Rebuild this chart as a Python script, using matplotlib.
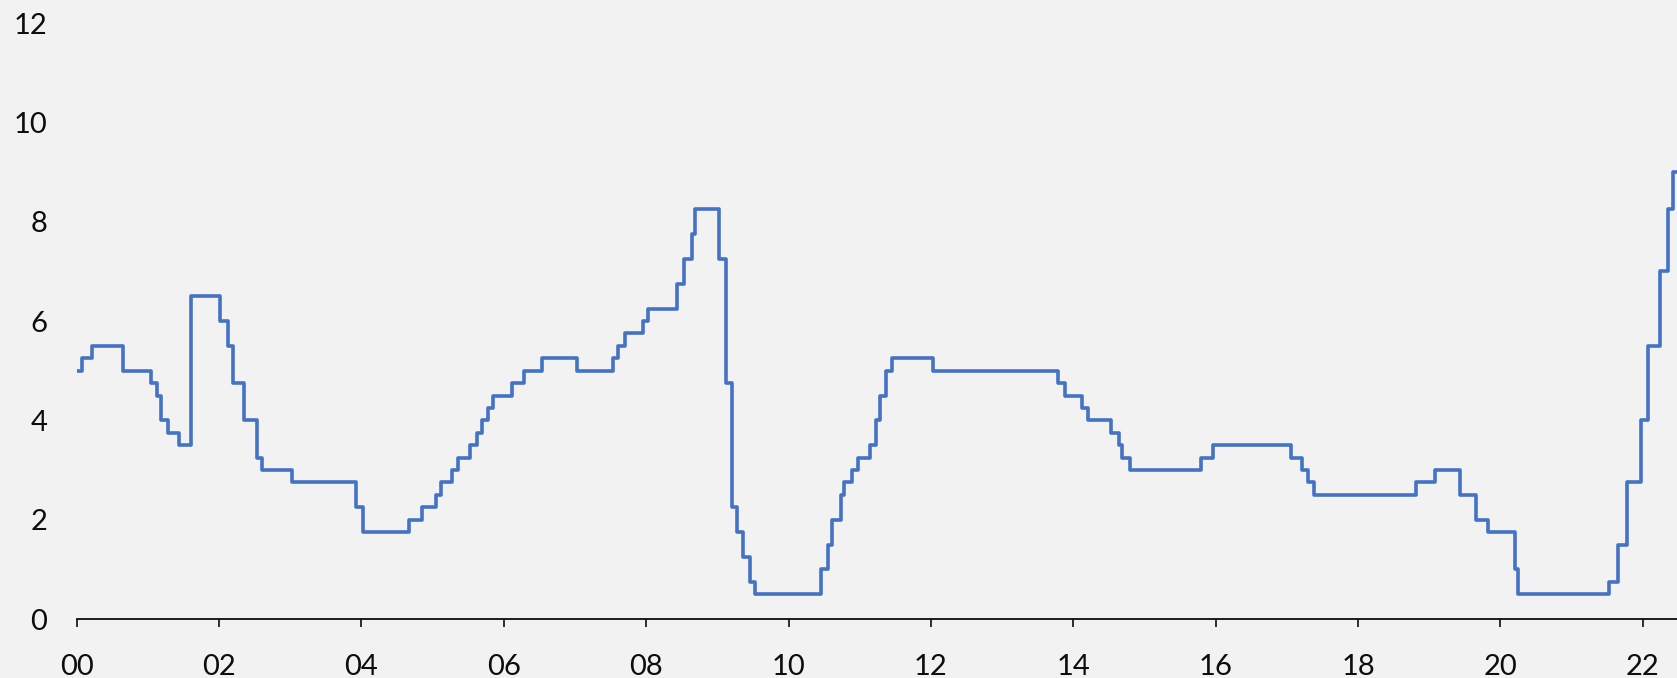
import numpy as np
import matplotlib
matplotlib.use("Agg")
import matplotlib.pyplot as plt

# step changes: time in years since 2000, level after the change
change_years = [0.0, 0.07, 0.22, 0.655, 1.05, 1.13, 1.18, 1.29, 1.44, 1.61,
                2.02, 2.13, 2.20, 2.35, 2.54, 2.61, 3.02, 3.93, 4.02, 4.67,
                4.85, 5.05, 5.12, 5.27, 5.36, 5.53, 5.62, 5.70, 5.78, 5.85,
                6.11, 6.29, 6.53, 7.03, 7.53, 7.61, 7.70, 7.95, 8.02, 8.43,
                8.53, 8.64, 8.69, 9.02, 9.12, 9.20, 9.28, 9.36, 9.46, 9.53,
                10.46, 10.56, 10.61, 10.74, 10.78, 10.89, 10.97, 11.15, 11.23, 11.29,
                11.37, 11.45, 12.03, 13.79, 13.89, 14.12, 14.20, 14.53, 14.64, 14.68,
                14.79, 15.79, 15.96, 17.06, 17.21, 17.29, 17.38, 18.81, 19.08, 19.43,
                19.66, 19.82, 20.20, 20.25, 21.52, 21.65, 21.78, 21.97, 22.07, 22.24,
                22.35, 22.42]
rates = [5.0, 5.25, 5.5, 5.0, 4.75, 4.5, 4.0, 3.75, 3.5, 6.5,
         6.0, 5.5, 4.75, 4.0, 3.25, 3.0, 2.75, 2.25, 1.75, 2.0,
         2.25, 2.5, 2.75, 3.0, 3.25, 3.5, 3.75, 4.0, 4.25, 4.5,
         4.75, 5.0, 5.25, 5.0, 5.25, 5.5, 5.75, 6.0, 6.25, 6.75,
         7.25, 7.75, 8.25, 7.25, 4.75, 2.25, 1.75, 1.25, 0.75, 0.5,
         1.0, 1.5, 2.0, 2.5, 2.75, 3.0, 3.25, 3.5, 4.0, 4.5,
         5.0, 5.25, 5.0, 4.75, 4.5, 4.25, 4.0, 3.75, 3.5, 3.25,
         3.0, 3.25, 3.5, 3.25, 3.0, 2.75, 2.5, 2.75, 3.0, 2.5,
         2.0, 1.75, 1.0, 0.5, 0.75, 1.5, 2.75, 4.0, 5.5, 7.0,
         8.25, 9.0]
end_year = 22.48

x_ticks = [0, 2, 4, 6, 8, 10, 12, 14, 16, 18, 20, 22]
x_labels = ["00", "02", "04", "06", "08", "10", "12", "14", "16", "18", "20", "22"]
y_ticks = [0, 2, 4, 6, 8, 10, 12]

bg = "#F2F2F2"
txt = "#0d0d0d"
plt.rcParams["font.family"] = ["Lato", "DejaVu Sans"]

fig = plt.figure(figsize=(16.77, 6.78), dpi=100, facecolor=bg)
ax = fig.add_axes([0.0457, 0.087, 0.9543, 0.879])
ax.set_facecolor(bg)

xs = change_years + [end_year]
ys = rates + [rates[-1]]
ax.step(xs, ys, where="post", color="#4472C4", linewidth=2.6)

ax.set_xlim(0, end_year)
ax.set_ylim(0, 12)
ax.set_xticks(x_ticks)
ax.set_xticklabels(x_labels)
ax.set_yticks(y_ticks)

for s in ["top", "right", "left"]:
    ax.spines[s].set_visible(False)
ax.spines["bottom"].set_color(txt)
ax.spines["bottom"].set_linewidth(1.3)
ax.spines["bottom"].set_zorder(0)

ax.tick_params(axis="x", direction="out", length=6, width=1.2, color=txt,
               pad=19, labelsize=21, labelcolor=txt)
ax.tick_params(axis="y", length=0, pad=21, labelsize=21, labelcolor=txt)

fig.savefig("out.png", dpi=100, facecolor=bg)
